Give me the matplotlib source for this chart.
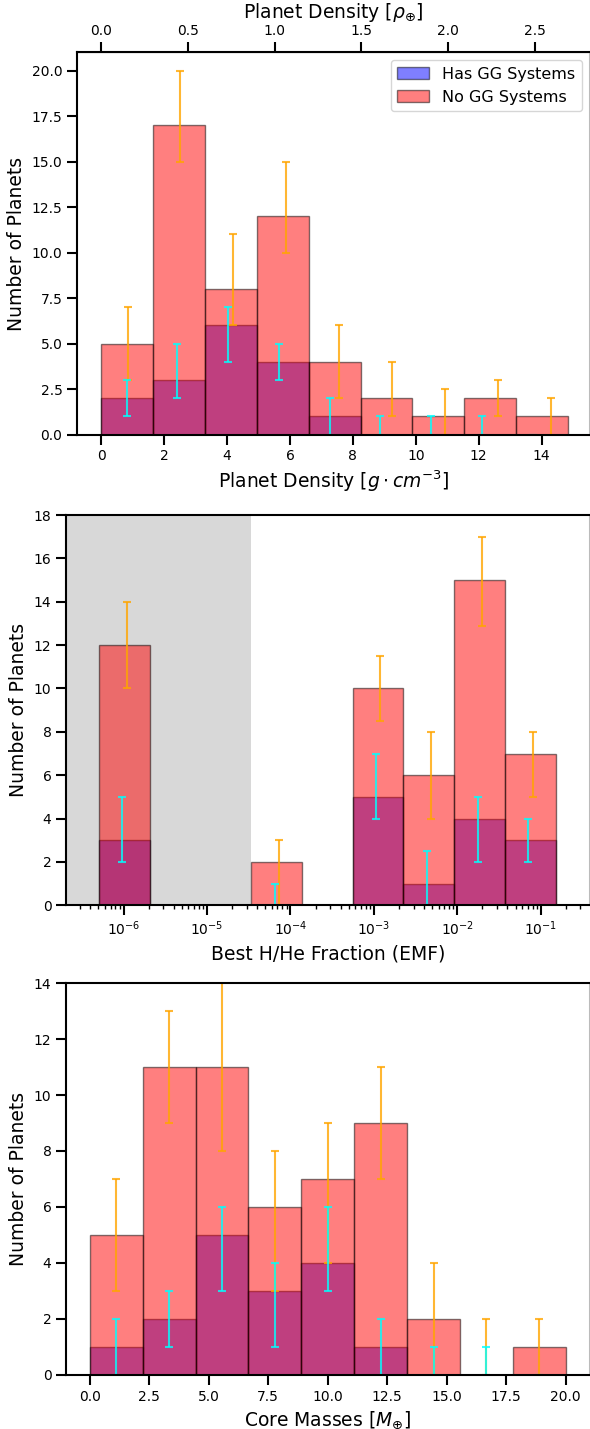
import numpy as np
import matplotlib
matplotlib.use("Agg")
import matplotlib.pyplot as plt

# ========================
# DATA
# ========================

# panel 1: planet density [g cm^-3]
dens_edges = np.linspace(0, 14.84, 10)
dens_no_gg = [5, 17, 8, 12, 4, 2, 1, 2, 1]
dens_has_gg = [2, 3, 6, 4, 1, 0, 0, 0, 0]
dens_no_x = [0.84, 2.51, 4.20, 5.87, 7.56, 9.25, 10.92, 12.61, 14.30]
dens_no_lo = [3, 15, 6, 10, 2, 1, 0, 1, 0]
dens_no_hi = [7, 20, 11, 15, 6, 4, 2.5, 3, 2]
dens_has_x = [0.81, 2.40, 4.03, 5.65, 7.26, 8.87, 10.49, 12.10, 13.74]
dens_has_lo = [1, 2, 4, 3, 0, 0, 0, 0, 0]
dens_has_hi = [3, 5, 7, 5, 2, 1, 1, 1, 0]

# panel 2: best H/He fraction (log bins)
emf_log_edges = np.linspace(-6.296, -0.82, 10)
emf_no_gg = [12, 0, 0, 2, 0, 10, 6, 15, 7]
emf_has_gg = [3, 0, 0, 0, 0, 5, 1, 4, 3]
emf_no_logx = [-5.963, -4.137, -2.920, -2.311, -1.702, -1.089]
emf_no_lo = [10, 0, 8.5, 4, 12.9, 5]
emf_no_hi = [14, 3, 11.5, 8, 17, 8]
emf_has_logx = [-6.020, -4.186, -2.977, -2.364, -1.751, -1.146]
emf_has_lo = [2, 0, 4, 0, 2, 2]
emf_has_hi = [5, 1, 7, 2.5, 5, 4]
emf_shade_end = 10 ** -4.47

# panel 3: core masses [M_earth]
core_edges = np.linspace(0, 20, 10)
core_no_gg = [5, 11, 11, 6, 7, 9, 2, 0, 1]
core_has_gg = [1, 2, 5, 3, 4, 1, 0, 0, 0]
core_no_lo = [3, 9, 8, 3, 4, 7, 0, 0, 0]
core_no_hi = [7, 13, 15, 8, 9, 11, 4, 2, 2]
core_has_lo = [0, 1, 3, 1, 3, 0, 0, 0, 0]
core_has_hi = [2, 3, 6, 4, 6, 2, 1, 1, 0]

rho_earth = 5.51

# ========================
# HELPERS
# ========================

def draw_bars(ax, edges, has, no):
    w = np.diff(edges)
    ax.bar(edges[:-1], has, width=w, align='edge', color='blue', alpha=0.5,
           edgecolor='black', linewidth=1, label='Has GG Systems')
    ax.bar(edges[:-1], no, width=w, align='edge', color='red', alpha=0.5,
           edgecolor='black', linewidth=1, label='No GG Systems')


def draw_err(ax, x, lo, hi, color):
    x = np.asarray(x, dtype=float)
    lo = np.asarray(lo, dtype=float)
    hi = np.asarray(hi, dtype=float)
    mid = (lo + hi) / 2
    ax.errorbar(x, mid, yerr=[mid - lo, hi - mid], fmt='none', ecolor=color,
                elinewidth=1.5, capsize=3, capthick=1.5, alpha=0.8)


def style(ax):
    ax.tick_params(which='major', length=7, width=1.5, labelsize=10)
    ax.tick_params(which='minor', length=3, width=1)
    for s in ax.spines.values():
        s.set_linewidth(1.5)
    ax.spines['right'].set_color('#bbbbbb')
    ax.set_ylabel('Number of Planets', fontsize=13.5)


fig = plt.figure(figsize=(5.9, 14.29), dpi=100)

# ========================
# PLOT 1
# ========================

ax1 = fig.add_axes([0.1305, 0.6958, 0.8690, 0.2676])
draw_bars(ax1, dens_edges, dens_has_gg, dens_no_gg)
draw_err(ax1, dens_no_x, dens_no_lo, dens_no_hi, 'orange')
draw_err(ax1, dens_has_x, dens_has_lo, dens_has_hi, 'cyan')
ax1.set_xlim(-0.77, 15.53)
ax1.set_ylim(0, 21)
ax1.set_xlabel(r'Planet Density [$g \cdot cm^{-3}$]', fontsize=13.5)
style(ax1)
ax1.legend(loc='upper right', fontsize=11.5)

sec = ax1.secondary_xaxis('top', functions=(lambda x: x / rho_earth,
                                             lambda x: x * rho_earth))
sec.set_xlabel(r'Planet Density [$\rho_{\oplus}$]', fontsize=13.5)
sec.tick_params(length=7, width=1.5, labelsize=10)

# ========================
# PLOT 2
# ========================

ax2 = fig.add_axes([0.1119, 0.3665, 0.8873, 0.2731])
ax2.set_xscale('log')
ax2.axvspan(1e-8, emf_shade_end, color='grey', alpha=0.3, linewidth=0)
draw_bars(ax2, 10 ** emf_log_edges, emf_has_gg, emf_no_gg)
draw_err(ax2, 10 ** np.array(emf_no_logx), emf_no_lo, emf_no_hi, 'orange')
draw_err(ax2, 10 ** np.array(emf_has_logx), emf_has_lo, emf_has_hi, 'cyan')
ax2.set_xlim(10 ** -6.69, 10 ** -0.414)
ax2.set_ylim(0, 18)
ax2.set_xlabel('Best H/He Fraction (EMF)', fontsize=13.5)
style(ax2)

# ========================
# PLOT 3
# ========================

ax3 = fig.add_axes([0.1119, 0.0378, 0.8873, 0.2743])
draw_bars(ax3, core_edges, core_has_gg, core_no_gg)
core_mid = (core_edges[:-1] + core_edges[1:]) / 2
draw_err(ax3, core_mid, core_no_lo, core_no_hi, 'orange')
draw_err(ax3, core_mid, core_has_lo, core_has_hi, 'cyan')
ax3.set_xlim(-1, 21)
ax3.set_ylim(0, 14)
ax3.set_xlabel(r'Core Masses [$M_{\oplus}$]', fontsize=13.5)
style(ax3)

fig.savefig('out.png', dpi=100)
